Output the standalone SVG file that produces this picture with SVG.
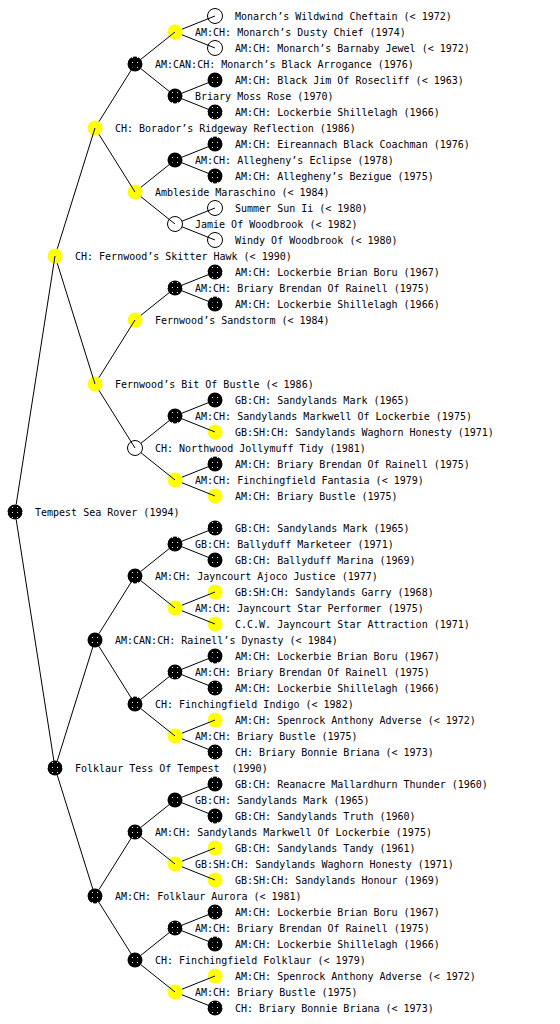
<svg xmlns="http://www.w3.org/2000/svg" width="560" height="1024" viewBox="0 0 560 1024">
<style>
text{font-family:"DejaVu Sans Mono","Liberation Mono",monospace;font-size:10px;fill:#000;white-space:pre}
.b{fill:url(#pb);stroke:none}
.y{fill:url(#py);stroke:none}
.w{fill:#fff;stroke:#000;stroke-width:1}
#connectors line{stroke:#000;stroke-width:1}
</style>
<defs>
<pattern id="pb" width="5" height="5" patternUnits="userSpaceOnUse">
<rect width="5" height="5" fill="#000"/><rect x="2" y="2" width="1" height="1" fill="#fff"/>
</pattern>
<pattern id="py" width="4" height="4" patternUnits="userSpaceOnUse">
<rect width="4" height="4" fill="#ffff00"/><rect x="1" y="1" width="1" height="1" fill="#fff"/><rect x="3" y="3" width="1" height="1" fill="#fff"/>
</pattern>
</defs>
<rect width="560" height="1024" fill="#fff"/>
<g id="nodes">
<g id="n0"><circle class="b" cx="15" cy="512" r="7.5"/><text x="35" y="516">Tempest Sea Rover (1994)</text></g>
<g id="n1"><circle class="y" cx="55" cy="256" r="7.5"/><text x="75" y="260">CH: Fernwood’s Skitter Hawk (&lt; 1990)</text></g>
<g id="n2"><circle class="b" cx="55" cy="768" r="7.5"/><text x="75" y="772">Folklaur Tess Of Tempest  (1990)</text></g>
<g id="n3"><circle class="y" cx="95" cy="128" r="7.5"/><text x="115" y="132">CH: Borador’s Ridgeway Reflection (1986)</text></g>
<g id="n4"><circle class="y" cx="95" cy="384" r="7.5"/><text x="115" y="388">Fernwood’s Bit Of Bustle (&lt; 1986)</text></g>
<g id="n5"><circle class="b" cx="95" cy="640" r="7.5"/><text x="115" y="644">AM:CAN:CH: Rainell’s Dynasty (&lt; 1984)</text></g>
<g id="n6"><circle class="b" cx="95" cy="896" r="7.5"/><text x="115" y="900">AM:CH: Folklaur Aurora (&lt; 1981)</text></g>
<g id="n7"><circle class="b" cx="135" cy="64" r="7.5"/><text x="155" y="68">AM:CAN:CH: Monarch’s Black Arrogance (1976)</text></g>
<g id="n8"><circle class="y" cx="135" cy="192" r="7.5"/><text x="155" y="196">Ambleside Maraschino (&lt; 1984)</text></g>
<g id="n9"><circle class="y" cx="135" cy="320" r="7.5"/><text x="155" y="324">Fernwood’s Sandstorm (&lt; 1984)</text></g>
<g id="n10"><circle class="w" cx="135" cy="448" r="7.5"/><text x="155" y="452">CH: Northwood Jollymuff Tidy (1981)</text></g>
<g id="n11"><circle class="b" cx="135" cy="576" r="7.5"/><text x="155" y="580">AM:CH: Jayncourt Ajoco Justice (1977)</text></g>
<g id="n12"><circle class="b" cx="135" cy="704" r="7.5"/><text x="155" y="708">CH: Finchingfield Indigo (&lt; 1982)</text></g>
<g id="n13"><circle class="b" cx="135" cy="832" r="7.5"/><text x="155" y="836">AM:CH: Sandylands Markwell Of Lockerbie (1975)</text></g>
<g id="n14"><circle class="b" cx="135" cy="960" r="7.5"/><text x="155" y="964">CH: Finchingfield Folklaur (&lt; 1979)</text></g>
<g id="n15"><circle class="y" cx="175" cy="32" r="7.5"/><text x="195" y="36">AM:CH: Monarch’s Dusty Chief (1974)</text></g>
<g id="n16"><circle class="b" cx="175" cy="96" r="7.5"/><text x="195" y="100">Briary Moss Rose (1970)</text></g>
<g id="n17"><circle class="b" cx="175" cy="160" r="7.5"/><text x="195" y="164">AM:CH: Allegheny’s Eclipse (1978)</text></g>
<g id="n18"><circle class="w" cx="175" cy="224" r="7.5"/><text x="195" y="228">Jamie Of Woodbrook (&lt; 1982)</text></g>
<g id="n19"><circle class="b" cx="175" cy="288" r="7.5"/><text x="195" y="292">AM:CH: Briary Brendan Of Rainell (1975)</text></g>
<g id="n20"><circle class="b" cx="175" cy="416" r="7.5"/><text x="195" y="420">AM:CH: Sandylands Markwell Of Lockerbie (1975)</text></g>
<g id="n21"><circle class="y" cx="175" cy="480" r="7.5"/><text x="195" y="484">AM:CH: Finchingfield Fantasia (&lt; 1979)</text></g>
<g id="n22"><circle class="b" cx="175" cy="544" r="7.5"/><text x="195" y="548">GB:CH: Ballyduff Marketeer (1971)</text></g>
<g id="n23"><circle class="y" cx="175" cy="608" r="7.5"/><text x="195" y="612">AM:CH: Jayncourt Star Performer (1975)</text></g>
<g id="n24"><circle class="b" cx="175" cy="672" r="7.5"/><text x="195" y="676">AM:CH: Briary Brendan Of Rainell (1975)</text></g>
<g id="n25"><circle class="y" cx="175" cy="736" r="7.5"/><text x="195" y="740">AM:CH: Briary Bustle (1975)</text></g>
<g id="n26"><circle class="b" cx="175" cy="800" r="7.5"/><text x="195" y="804">GB:CH: Sandylands Mark (1965)</text></g>
<g id="n27"><circle class="y" cx="175" cy="864" r="7.5"/><text x="195" y="868">GB:SH:CH: Sandylands Waghorn Honesty (1971)</text></g>
<g id="n28"><circle class="b" cx="175" cy="928" r="7.5"/><text x="195" y="932">AM:CH: Briary Brendan Of Rainell (1975)</text></g>
<g id="n29"><circle class="y" cx="175" cy="992" r="7.5"/><text x="195" y="996">AM:CH: Briary Bustle (1975)</text></g>
<g id="n30"><circle class="w" cx="215" cy="16" r="7.5"/><text x="235" y="20">Monarch’s Wildwind Cheftain (&lt; 1972)</text></g>
<g id="n31"><circle class="w" cx="215" cy="48" r="7.5"/><text x="235" y="52">AM:CH: Monarch’s Barnaby Jewel (&lt; 1972)</text></g>
<g id="n32"><circle class="b" cx="215" cy="80" r="7.5"/><text x="235" y="84">AM:CH: Black Jim Of Rosecliff (&lt; 1963)</text></g>
<g id="n33"><circle class="b" cx="215" cy="112" r="7.5"/><text x="235" y="116">AM:CH: Lockerbie Shillelagh (1966)</text></g>
<g id="n34"><circle class="b" cx="215" cy="144" r="7.5"/><text x="235" y="148">AM:CH: Eireannach Black Coachman (1976)</text></g>
<g id="n35"><circle class="b" cx="215" cy="176" r="7.5"/><text x="235" y="180">AM:CH: Allegheny’s Bezigue (1975)</text></g>
<g id="n36"><circle class="w" cx="215" cy="208" r="7.5"/><text x="235" y="212">Summer Sun Ii (&lt; 1980)</text></g>
<g id="n37"><circle class="w" cx="215" cy="240" r="7.5"/><text x="235" y="244">Windy Of Woodbrook (&lt; 1980)</text></g>
<g id="n38"><circle class="b" cx="215" cy="272" r="7.5"/><text x="235" y="276">AM:CH: Lockerbie Brian Boru (1967)</text></g>
<g id="n39"><circle class="b" cx="215" cy="304" r="7.5"/><text x="235" y="308">AM:CH: Lockerbie Shillelagh (1966)</text></g>
<g id="n40"><circle class="b" cx="215" cy="400" r="7.5"/><text x="235" y="404">GB:CH: Sandylands Mark (1965)</text></g>
<g id="n41"><circle class="y" cx="215" cy="432" r="7.5"/><text x="235" y="436">GB:SH:CH: Sandylands Waghorn Honesty (1971)</text></g>
<g id="n42"><circle class="b" cx="215" cy="464" r="7.5"/><text x="235" y="468">AM:CH: Briary Brendan Of Rainell (1975)</text></g>
<g id="n43"><circle class="y" cx="215" cy="496" r="7.5"/><text x="235" y="500">AM:CH: Briary Bustle (1975)</text></g>
<g id="n44"><circle class="b" cx="215" cy="528" r="7.5"/><text x="235" y="532">GB:CH: Sandylands Mark (1965)</text></g>
<g id="n45"><circle class="b" cx="215" cy="560" r="7.5"/><text x="235" y="564">GB:CH: Ballyduff Marina (1969)</text></g>
<g id="n46"><circle class="y" cx="215" cy="592" r="7.5"/><text x="235" y="596">GB:SH:CH: Sandylands Garry (1968)</text></g>
<g id="n47"><circle class="y" cx="215" cy="624" r="7.5"/><text x="235" y="628">C.C.W. Jayncourt Star Attraction (1971)</text></g>
<g id="n48"><circle class="b" cx="215" cy="656" r="7.5"/><text x="235" y="660">AM:CH: Lockerbie Brian Boru (1967)</text></g>
<g id="n49"><circle class="b" cx="215" cy="688" r="7.5"/><text x="235" y="692">AM:CH: Lockerbie Shillelagh (1966)</text></g>
<g id="n50"><circle class="y" cx="215" cy="720" r="7.5"/><text x="235" y="724">AM:CH: Spenrock Anthony Adverse (&lt; 1972)</text></g>
<g id="n51"><circle class="b" cx="215" cy="752" r="7.5"/><text x="235" y="756">CH: Briary Bonnie Briana (&lt; 1973)</text></g>
<g id="n52"><circle class="b" cx="215" cy="784" r="7.5"/><text x="235" y="788">GB:CH: Reanacre Mallardhurn Thunder (1960)</text></g>
<g id="n53"><circle class="b" cx="215" cy="816" r="7.5"/><text x="235" y="820">GB:CH: Sandylands Truth (1960)</text></g>
<g id="n54"><circle class="y" cx="215" cy="848" r="7.5"/><text x="235" y="852">GB:CH: Sandylands Tandy (1961)</text></g>
<g id="n55"><circle class="y" cx="215" cy="880" r="7.5"/><text x="235" y="884">GB:SH:CH: Sandylands Honour (1969)</text></g>
<g id="n56"><circle class="b" cx="215" cy="912" r="7.5"/><text x="235" y="916">AM:CH: Lockerbie Brian Boru (1967)</text></g>
<g id="n57"><circle class="b" cx="215" cy="944" r="7.5"/><text x="235" y="948">AM:CH: Lockerbie Shillelagh (1966)</text></g>
<g id="n58"><circle class="y" cx="215" cy="976" r="7.5"/><text x="235" y="980">AM:CH: Spenrock Anthony Adverse (&lt; 1972)</text></g>
<g id="n59"><circle class="b" cx="215" cy="1008" r="7.5"/><text x="235" y="1012">CH: Briary Bonnie Briana (&lt; 1973)</text></g>
</g>
<g id="connectors">
<line x1="16.16" y1="504.59" x2="55" y2="256"/>
<line x1="16.16" y1="519.41" x2="55" y2="768"/>
<line x1="57.24" y1="248.84" x2="95" y2="128"/>
<line x1="57.24" y1="263.16" x2="95" y2="384"/>
<line x1="57.24" y1="760.84" x2="95" y2="640"/>
<line x1="57.24" y1="775.16" x2="95" y2="896"/>
<line x1="98.97" y1="121.64" x2="135" y2="64"/>
<line x1="98.97" y1="134.36" x2="135" y2="192"/>
<line x1="98.97" y1="377.64" x2="135" y2="320"/>
<line x1="98.97" y1="390.36" x2="135" y2="448"/>
<line x1="98.97" y1="633.64" x2="135" y2="576"/>
<line x1="98.97" y1="646.36" x2="135" y2="704"/>
<line x1="98.97" y1="889.64" x2="135" y2="832"/>
<line x1="98.97" y1="902.36" x2="135" y2="960"/>
<line x1="140.86" y1="59.31" x2="175" y2="32"/>
<line x1="140.86" y1="68.69" x2="175" y2="96"/>
<line x1="140.86" y1="187.31" x2="175" y2="160"/>
<line x1="140.86" y1="196.69" x2="175" y2="224"/>
<line x1="140.86" y1="315.31" x2="175" y2="288"/>
<line x1="140.86" y1="443.31" x2="175" y2="416"/>
<line x1="140.86" y1="452.69" x2="175" y2="480"/>
<line x1="140.86" y1="571.31" x2="175" y2="544"/>
<line x1="140.86" y1="580.69" x2="175" y2="608"/>
<line x1="140.86" y1="699.31" x2="175" y2="672"/>
<line x1="140.86" y1="708.69" x2="175" y2="736"/>
<line x1="140.86" y1="827.31" x2="175" y2="800"/>
<line x1="140.86" y1="836.69" x2="175" y2="864"/>
<line x1="140.86" y1="955.31" x2="175" y2="928"/>
<line x1="140.86" y1="964.69" x2="175" y2="992"/>
<line x1="181.96" y1="29.21" x2="215" y2="16"/>
<line x1="181.96" y1="34.79" x2="215" y2="48"/>
<line x1="181.96" y1="93.21" x2="215" y2="80"/>
<line x1="181.96" y1="98.79" x2="215" y2="112"/>
<line x1="181.96" y1="157.21" x2="215" y2="144"/>
<line x1="181.96" y1="162.79" x2="215" y2="176"/>
<line x1="181.96" y1="221.21" x2="215" y2="208"/>
<line x1="181.96" y1="226.79" x2="215" y2="240"/>
<line x1="181.96" y1="285.21" x2="215" y2="272"/>
<line x1="181.96" y1="290.79" x2="215" y2="304"/>
<line x1="181.96" y1="413.21" x2="215" y2="400"/>
<line x1="181.96" y1="418.79" x2="215" y2="432"/>
<line x1="181.96" y1="477.21" x2="215" y2="464"/>
<line x1="181.96" y1="482.79" x2="215" y2="496"/>
<line x1="181.96" y1="541.21" x2="215" y2="528"/>
<line x1="181.96" y1="546.79" x2="215" y2="560"/>
<line x1="181.96" y1="605.21" x2="215" y2="592"/>
<line x1="181.96" y1="610.79" x2="215" y2="624"/>
<line x1="181.96" y1="669.21" x2="215" y2="656"/>
<line x1="181.96" y1="674.79" x2="215" y2="688"/>
<line x1="181.96" y1="733.21" x2="215" y2="720"/>
<line x1="181.96" y1="738.79" x2="215" y2="752"/>
<line x1="181.96" y1="797.21" x2="215" y2="784"/>
<line x1="181.96" y1="802.79" x2="215" y2="816"/>
<line x1="181.96" y1="861.21" x2="215" y2="848"/>
<line x1="181.96" y1="866.79" x2="215" y2="880"/>
<line x1="181.96" y1="925.21" x2="215" y2="912"/>
<line x1="181.96" y1="930.79" x2="215" y2="944"/>
<line x1="181.96" y1="989.21" x2="215" y2="976"/>
<line x1="181.96" y1="994.79" x2="215" y2="1008"/>
</g>
</svg>
